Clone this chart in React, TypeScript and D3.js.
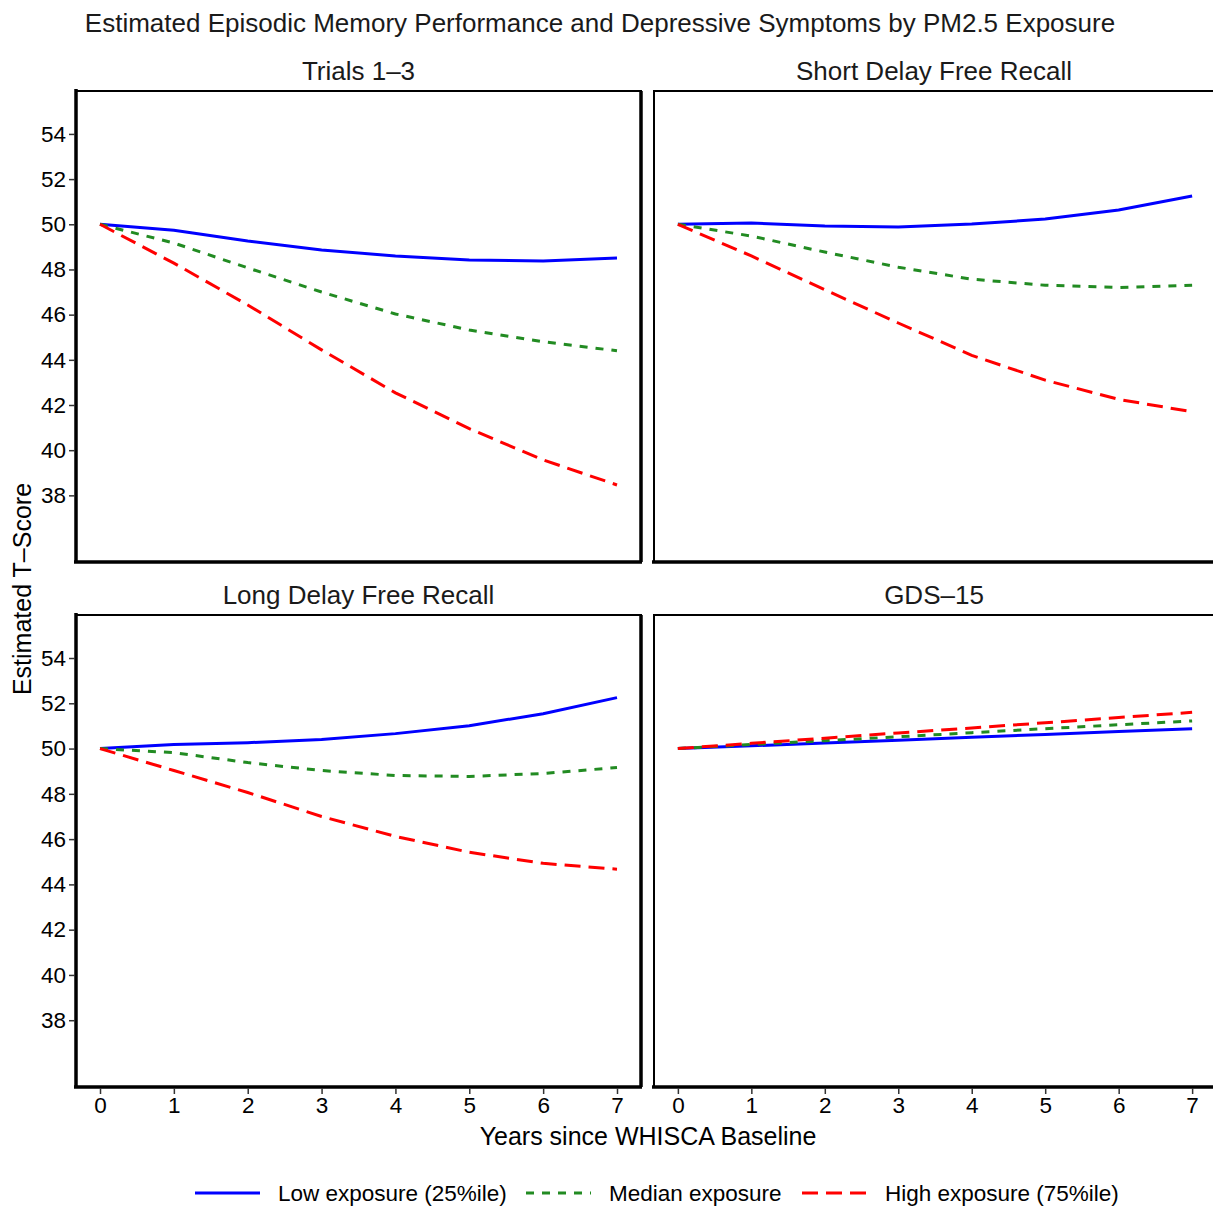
import { useEffect, useRef } from 'react';
import * as d3 from 'd3';

// Estimated T-score trajectories by PM2.5 exposure level
const YEARS = [0, 1, 2, 3, 4, 5, 6, 7];
const Y_TICKS = [38, 40, 42, 44, 46, 48, 50, 52, 54];

const PANEL_TITLES = ['Trials 1\u20133', 'Short Delay Free Recall', 'Long Delay Free Recall', 'GDS\u201315'];

const trialsLow = [50, 49.74, 49.26, 48.86, 48.6, 48.42, 48.37, 48.51];
const trialsMedian = [50, 49.17, 48.07, 47.0, 46.03, 45.32, 44.8, 44.4];
const trialsHigh = [50, 48.28, 46.43, 44.44, 42.54, 40.95, 39.57, 38.46];

const shortLow = [50, 50.06, 49.92, 49.88, 50.01, 50.23, 50.63, 51.25];
const shortMedian = [50, 49.48, 48.77, 48.1, 47.57, 47.3, 47.2, 47.3];
const shortHigh = [50, 48.6, 47.1, 45.63, 44.2, 43.1, 42.25, 41.7];

const longLow = [50, 50.18, 50.26, 50.4, 50.66, 51.01, 51.54, 52.25];
const longMedian = [50, 49.82, 49.38, 49.03, 48.81, 48.77, 48.9, 49.16];
const longHigh = [50, 49.03, 48.06, 47.0, 46.12, 45.42, 44.93, 44.67];

const gdsLow = [50, 50.12, 50.25, 50.37, 50.5, 50.62, 50.75, 50.88];
const gdsMedian = [50, 50.18, 50.35, 50.52, 50.7, 50.88, 51.05, 51.22];
const gdsHigh = [50, 50.23, 50.46, 50.69, 50.91, 51.14, 51.37, 51.6];

const SERIES = [
    { label: 'Low exposure (25%ile)', color: '#0000FF', dash: null as string | null },
    { label: 'Median exposure', color: '#228B22', dash: '8,8' },
    { label: 'High exposure (75%ile)', color: '#FF0000', dash: '16,8' },
];

const PANEL_DATA = [
    [trialsLow, trialsMedian, trialsHigh],
    [shortLow, shortMedian, shortHigh],
    [longLow, longMedian, longHigh],
    [gdsLow, gdsMedian, gdsHigh],
];

const FONT = '"Liberation Sans", Arial, Helvetica, sans-serif';
const WIDTH = 1213;
const HEIGHT = 1206;

export default function App() {
    const svgRef = useRef<SVGSVGElement | null>(null);

    useEffect(() => {
        if (!svgRef.current) return;
        const svg = d3.select(svgRef.current);
        svg.selectAll('*').remove();

        const cols = [[76, 641], [654, 1216]];
        const rows = [[91, 562], [615, 1087]];

        svg.append('text')
            .attr('x', 600).attr('y', 32)
            .attr('text-anchor', 'middle')
            .style('font-family', FONT).style('font-size', '26px').style('fill', '#1a1a1a')
            .text('Estimated Episodic Memory Performance and Depressive Symptoms by PM2.5 Exposure');

        PANEL_DATA.forEach((panel, pi) => {
            const col = pi % 2;
            const row = Math.floor(pi / 2);
            const [x0, x1] = cols[col];
            const [y0, y1] = rows[row];

            const x = d3.scaleLinear().domain([-0.325, 7.325]).range([x0, x1]);
            const y = d3.scaleLinear().domain([35.05, 55.9]).range([y1, y0]);

            const g = svg.append('g');

            // strip title
            g.append('text')
                .attr('x', (x0 + x1) / 2 + (col === 1 ? -1 : 0))
                .attr('y', y0 - 11)
                .attr('text-anchor', 'middle')
                .style('font-family', FONT).style('font-size', '26px').style('fill', '#1a1a1a')
                .text(PANEL_TITLES[pi]);

            // lines
            panel.forEach((vals, si) => {
                const s = SERIES[si];
                const line = d3.line<number>()
                    .x((_, i) => x(YEARS[i]))
                    .y(d => y(d));
                g.append('path')
                    .datum(vals)
                    .attr('d', line)
                    .attr('fill', 'none')
                    .attr('stroke', s.color)
                    .attr('stroke-width', 3)
                    .attr('stroke-dasharray', s.dash);
            });

            // panel border
            g.append('rect')
                .attr('x', x0).attr('y', y0)
                .attr('width', x1 - x0).attr('height', y1 - y0)
                .attr('fill', 'none')
                .attr('stroke', '#000')
                .attr('stroke-width', 2);

            // heavy axis lines
            g.append('line')
                .attr('x1', x0 - 2).attr('x2', x1 + 1)
                .attr('y1', y1).attr('y2', y1)
                .attr('stroke', '#000').attr('stroke-width', 3.5);
            if (col === 0) {
                g.append('line')
                    .attr('x1', x0).attr('x2', x0)
                    .attr('y1', y0 - 2).attr('y2', y1 + 1)
                    .attr('stroke', '#000').attr('stroke-width', 3.5);
                g.append('line')
                    .attr('x1', x1).attr('x2', x1)
                    .attr('y1', y0).attr('y2', y1)
                    .attr('stroke', '#000').attr('stroke-width', 3.5);

                const yAxis = g.append('g')
                    .attr('transform', `translate(${x0 - 1},0)`)
                    .call(d3.axisLeft(y).tickValues(Y_TICKS).tickSize(6).tickPadding(3).tickFormat(d3.format('d')));
                yAxis.select('.domain').remove();
                yAxis.selectAll('line').attr('stroke', '#333').attr('stroke-width', 1.5);
                yAxis.selectAll('text')
                    .style('font-family', FONT).style('font-size', '22.5px').style('fill', '#000');
            }

            if (row === 1) {
                const xAxis = g.append('g')
                    .attr('transform', `translate(0,${y1 + 1})`)
                    .call(d3.axisBottom(x).tickValues(YEARS).tickSize(6).tickPadding(3).tickFormat(d3.format('d')));
                xAxis.select('.domain').remove();
                xAxis.selectAll('line').attr('stroke', '#333').attr('stroke-width', 1.5);
                xAxis.selectAll('text')
                    .style('font-family', FONT).style('font-size', '22.5px').style('fill', '#000');
            }
        });

        // axis titles
        svg.append('text')
            .attr('x', 648).attr('y', 1145)
            .attr('text-anchor', 'middle')
            .style('font-family', FONT).style('font-size', '25px').style('fill', '#000')
            .text('Years since WHISCA Baseline');

        svg.append('text')
            .attr('transform', 'translate(31,589) rotate(-90)')
            .attr('text-anchor', 'middle')
            .style('font-family', FONT).style('font-size', '25px').style('fill', '#000')
            .text('Estimated T\u2013Score');

        // legend
        const legendX = [195, 526, 802];
        SERIES.forEach((s, i) => {
            const lg = svg.append('g').attr('transform', `translate(${legendX[i]},1193)`);
            lg.append('line')
                .attr('x1', 0).attr('x2', 65)
                .attr('y1', 0).attr('y2', 0)
                .attr('stroke', s.color)
                .attr('stroke-width', 3)
                .attr('stroke-dasharray', s.dash);
            lg.append('text')
                .attr('x', 83).attr('y', 8)
                .style('font-family', FONT).style('font-size', '22.5px').style('fill', '#000')
                .text(s.label);
        });
    }, []);

    return (
        <svg ref={svgRef} width={WIDTH} height={HEIGHT}
            style={{ position: 'absolute', left: 0, top: 0, background: '#fff' }} />
    );
}
